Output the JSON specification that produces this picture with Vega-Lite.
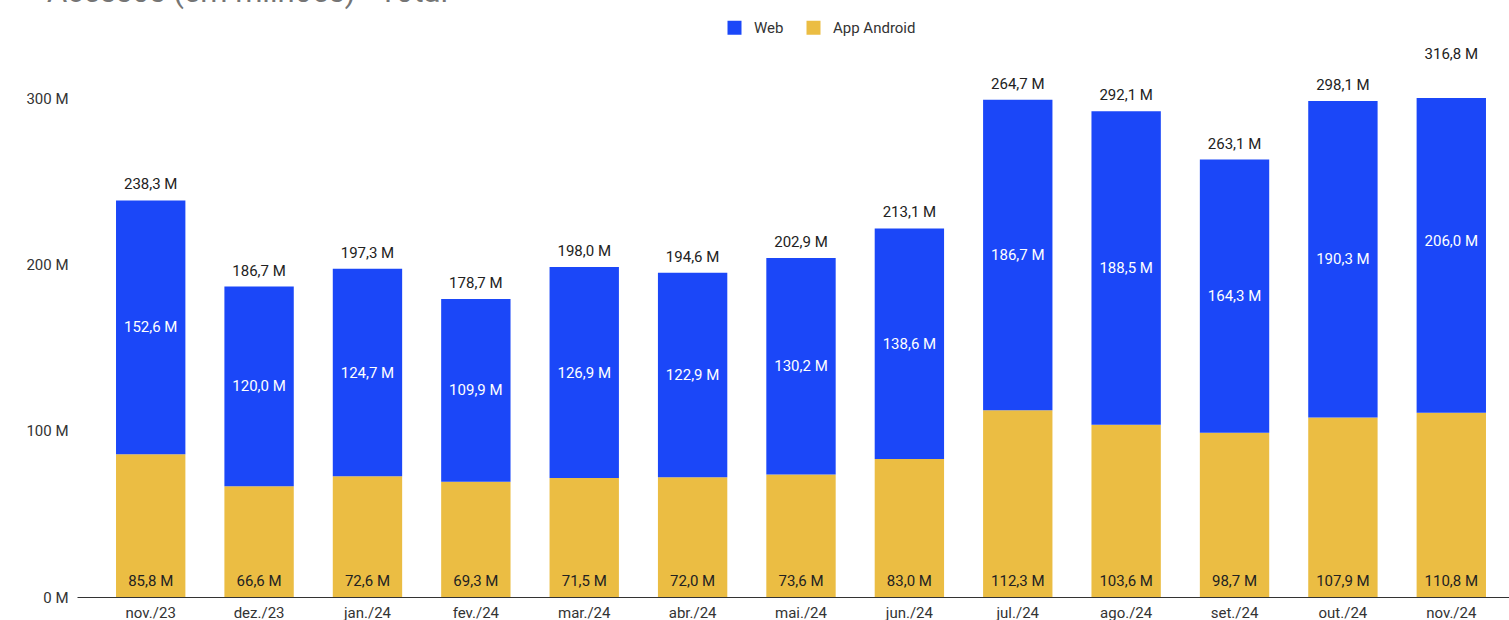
{
  "$schema": "https://vega.github.io/schema/vega-lite/v6.json",
  "width": 1432,
  "height": 499,
  "autosize": "none",
  "padding": {"left": 77, "top": 98, "right": 0, "bottom": 23},
  "background": "white",
  "title": {"text": "Acessos (em milhões) - Total", "anchor": "start", "frame": "group", "fontSize": 31, "font": "Roboto", "fontWeight": "normal", "color": "#757575", "dx": -30, "offset": 11},
  "config": {
    "locale": {"number": {"decimal": ",", "thousands": ".", "grouping": [3], "currency": ["", " M"]}},
    "view": {"stroke": null},
    "font": "Roboto"
  },
  "data": {"values": [
    {"month": "nov./23", "series": "App Android", "value": 85.8, "total": 238.3},
    {"month": "nov./23", "series": "Web", "value": 152.6, "total": 238.3},
    {"month": "dez./23", "series": "App Android", "value": 66.6, "total": 186.7},
    {"month": "dez./23", "series": "Web", "value": 120.0, "total": 186.7},
    {"month": "jan./24", "series": "App Android", "value": 72.6, "total": 197.3},
    {"month": "jan./24", "series": "Web", "value": 124.7, "total": 197.3},
    {"month": "fev./24", "series": "App Android", "value": 69.3, "total": 178.7},
    {"month": "fev./24", "series": "Web", "value": 109.9, "total": 178.7},
    {"month": "mar./24", "series": "App Android", "value": 71.5, "total": 198.0},
    {"month": "mar./24", "series": "Web", "value": 126.9, "total": 198.0},
    {"month": "abr./24", "series": "App Android", "value": 72.0, "total": 194.6},
    {"month": "abr./24", "series": "Web", "value": 122.9, "total": 194.6},
    {"month": "mai./24", "series": "App Android", "value": 73.6, "total": 202.9},
    {"month": "mai./24", "series": "Web", "value": 130.2, "total": 202.9},
    {"month": "jun./24", "series": "App Android", "value": 83.0, "total": 213.1},
    {"month": "jun./24", "series": "Web", "value": 138.6, "total": 213.1},
    {"month": "jul./24", "series": "App Android", "value": 112.3, "total": 264.7},
    {"month": "jul./24", "series": "Web", "value": 186.7, "total": 264.7},
    {"month": "ago./24", "series": "App Android", "value": 103.6, "total": 292.1},
    {"month": "ago./24", "series": "Web", "value": 188.5, "total": 292.1},
    {"month": "set./24", "series": "App Android", "value": 98.7, "total": 263.1},
    {"month": "set./24", "series": "Web", "value": 164.3, "total": 263.1},
    {"month": "out./24", "series": "App Android", "value": 107.9, "total": 298.1},
    {"month": "out./24", "series": "Web", "value": 190.3, "total": 298.1},
    {"month": "nov./24", "series": "App Android", "value": 110.8, "total": 316.8},
    {"month": "nov./24", "series": "Web", "value": 206.0, "total": 316.8}
  ]},
  "encoding": {
    "x": {
      "field": "month", "type": "nominal", "sort": null,
      "scale": {"range": [0, 1448], "paddingInner": 0.36, "paddingOuter": 0.36},
      "axis": {"title": null, "labelAngle": 0, "ticks": false, "domain": true, "domainColor": "#333333", "domainWidth": 1, "labelFontSize": 15, "labelColor": "#333333", "labelPadding": 8, "labelFont": "Roboto"}
    }
  },
  "layer": [
    {
      "mark": {"type": "bar", "clip": true},
      "encoding": {
        "y": {"field": "value", "type": "quantitative", "stack": "zero",
          "scale": {"domain": [0, 300]},
          "axis": {"title": null, "values": [0, 100, 200, 300], "format": "$.0f", "grid": false, "domain": false, "ticks": false, "labelFontSize": 15, "labelColor": "#333333", "labelPadding": 9, "labelFont": "Roboto"}},
        "color": {"field": "series", "type": "nominal",
          "scale": {"domain": ["Web", "App Android"], "range": ["#1b47f8", "#ebbd43"]},
          "legend": {"title": null, "orient": "none", "direction": "horizontal", "legendX": 650, "legendY": -78, "symbolType": "square", "symbolSize": 196, "symbolOpacity": 1, "symbolStrokeWidth": 0, "labelFontSize": 15, "labelColor": "#333333", "labelFont": "Roboto", "labelOffset": 12, "columnPadding": 22}},
        "order": {"field": "series", "sort": "ascending"}
      }
    },
    {
      "mark": {"type": "text", "fontSize": 15, "color": "#222222", "baseline": "alphabetic", "dy": -11},
      "encoding": {
        "y": {"aggregate": "sum", "field": "value", "type": "quantitative"},
        "text": {"aggregate": "max", "field": "total", "type": "quantitative", "format": "$.1f"}
      }
    },
    {
      "transform": [
        {"stack": "value", "groupby": ["month"], "sort": [{"field": "series", "order": "ascending"}], "as": ["v0", "v1"]},
        {"filter": "datum.series === 'Web'"},
        {"calculate": "(datum.v0 + datum.v1) / 2", "as": "mid"}
      ],
      "mark": {"type": "text", "fontSize": 15, "color": "white", "baseline": "middle"},
      "encoding": {
        "y": {"field": "mid", "type": "quantitative"},
        "text": {"field": "value", "type": "quantitative", "format": "$.1f"}
      }
    },
    {
      "transform": [{"filter": "datum.series === 'App Android'"}],
      "mark": {"type": "text", "fontSize": 15, "color": "#222222", "baseline": "alphabetic", "dy": -11},
      "encoding": {
        "y": {"datum": 0, "type": "quantitative"},
        "text": {"field": "value", "type": "quantitative", "format": "$.1f"}
      }
    }
  ]
}
